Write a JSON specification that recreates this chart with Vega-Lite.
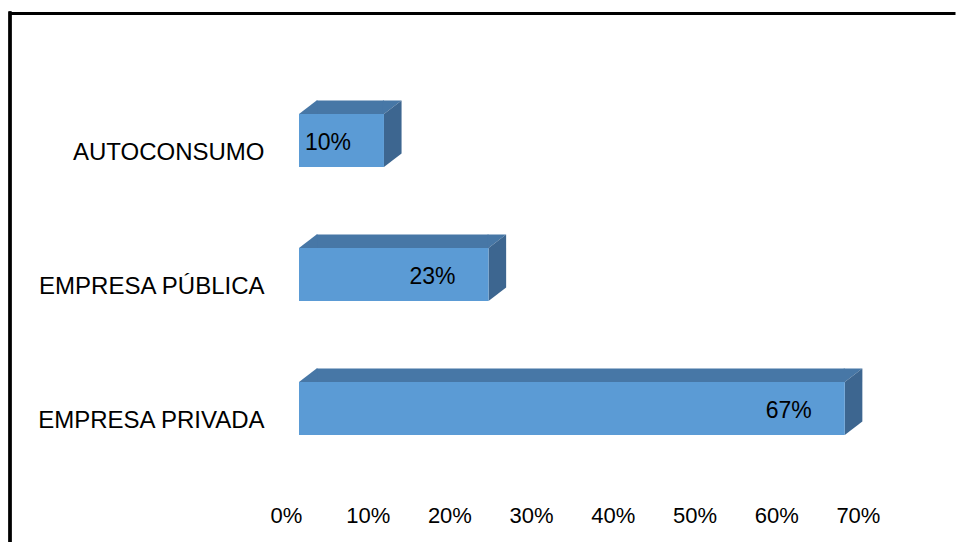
{
  "$schema": "https://vega.github.io/schema/vega-lite/v6.json",
  "autosize": "none",
  "width": 945,
  "height": 529,
  "padding": {"left": 10, "top": 13, "right": 2, "bottom": 0},
  "background": "white",
  "config": {
    "view": {"stroke": null},
    "font": "Liberation Sans"
  },
  "data": {
    "values": [
      {"category": "AUTOCONSUMO", "pct": 0.104},
      {"category": "EMPRESA PÚBLICA", "pct": 0.232},
      {"category": "EMPRESA PRIVADA", "pct": 0.668}
    ]
  },
  "resolve": {"axis": {"x": "independent"}},
  "layer": [
    {
      "mark": {"type": "bar", "height": 14, "yOffset": -33, "x2Offset": 17.6, "color": "#4777A6"},
      "encoding": {
        "y": {
          "field": "category",
          "type": "nominal",
          "sort": ["AUTOCONSUMO", "EMPRESA PÚBLICA", "EMPRESA PRIVADA"],
          "scale": {"range": [60.5, 462.5], "paddingInner": 0, "paddingOuter": 0},
          "axis": {
            "title": null,
            "orient": "left",
            "offset": -289,
            "domain": false,
            "ticks": false,
            "labelPadding": 35,
            "labelOffset": 12,
            "labelFontSize": 24,
            "labelColor": "black",
            "labelLimit": 400,
            "labelFont": "Liberation Sans"
          }
        },
        "x": {
          "field": "pct",
          "type": "quantitative",
          "scale": {"domain": [-0.35373, 0.80294], "nice": false, "zero": false},
          "axis": {
            "title": null,
            "orient": "bottom",
            "offset": -39,
            "values": [0, 0.1, 0.2, 0.3, 0.4, 0.5, 0.6, 0.7],
            "format": ".0%",
            "grid": false,
            "domain": false,
            "ticks": false,
            "labelPadding": 2,
            "labelOffset": -13,
            "labelFontSize": 22,
            "labelColor": "black",
            "labelFont": "Liberation Sans"
          }
        },
        "x2": {"datum": 0}
      }
    },
    {
      "mark": {"type": "rule", "color": "black", "strokeWidth": 3, "strokeCap": "square"},
      "encoding": {
        "x": {
          "datum": -0.35373,
          "type": "quantitative",
          "axis": {
            "title": null,
            "orient": "top",
            "domain": true,
            "domainColor": "black",
            "domainWidth": 3,
            "labels": false,
            "ticks": false,
            "grid": false
          }
        }
      }
    },
    {
      "mark": {"type": "point", "filled": true, "size": 4, "strokeWidth": 0, "opacity": 1, "color": "#4777A6", "shape": "M0,-26.5L17.6,-39.9L18.6,-39.9L18.6,-26.5Z"},
      "encoding": {
        "y": {"field": "category", "type": "nominal", "sort": ["AUTOCONSUMO", "EMPRESA PÚBLICA", "EMPRESA PRIVADA"]},
        "x": {"datum": 0, "type": "quantitative", "axis": null}
      }
    },
    {
      "mark": {"type": "point", "filled": true, "size": 4, "strokeWidth": 0, "opacity": 1, "color": "#4777A6", "shape": "M-1,-26.5L-1,-39.9L17.6,-39.9L0,-26.5Z"},
      "encoding": {
        "y": {"field": "category", "type": "nominal", "sort": ["AUTOCONSUMO", "EMPRESA PÚBLICA", "EMPRESA PRIVADA"]},
        "x": {"field": "pct", "type": "quantitative", "axis": null}
      }
    },
    {
      "mark": {"type": "point", "filled": true, "size": 4, "strokeWidth": 0, "opacity": 1, "color": "#3D6690", "shape": "M0,-26.5L17.6,-39.9L17.6,13.1L0,26.5Z"},
      "encoding": {
        "y": {"field": "category", "type": "nominal", "sort": ["AUTOCONSUMO", "EMPRESA PÚBLICA", "EMPRESA PRIVADA"]},
        "x": {"field": "pct", "type": "quantitative", "axis": null}
      }
    },
    {
      "mark": {"type": "bar", "height": 53, "color": "#5B9BD5"},
      "encoding": {
        "y": {"field": "category", "type": "nominal", "sort": ["AUTOCONSUMO", "EMPRESA PÚBLICA", "EMPRESA PRIVADA"]},
        "x": {"field": "pct", "type": "quantitative", "axis": null},
        "x2": {"datum": 0}
      }
    },
    {
      "mark": {"type": "text", "dx": -56, "dy": 2, "fontSize": 23, "color": "black", "align": "center", "baseline": "middle", "font": "Liberation Sans"},
      "encoding": {
        "y": {"field": "category", "type": "nominal", "sort": ["AUTOCONSUMO", "EMPRESA PÚBLICA", "EMPRESA PRIVADA"]},
        "x": {"field": "pct", "type": "quantitative", "axis": null},
        "text": {"field": "pct", "type": "quantitative", "format": ".0%"}
      }
    }
  ]
}
